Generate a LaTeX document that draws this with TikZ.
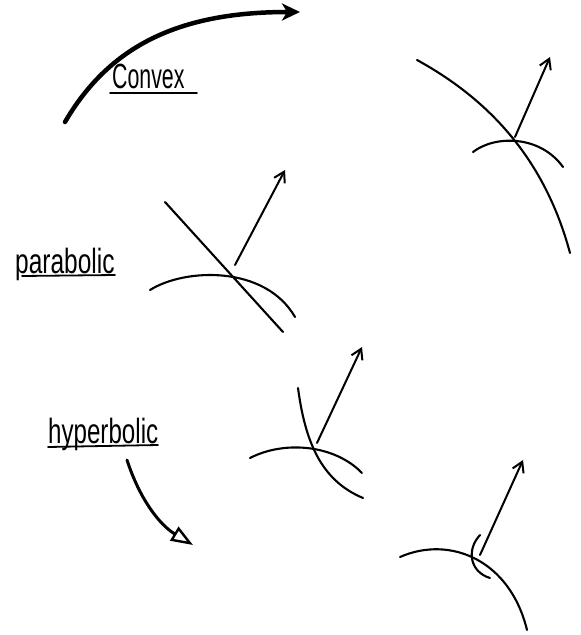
\documentclass[tikz,border=0pt]{standalone}
\usepackage{fontspec}
\setmainfont{Liberation Sans}
\usetikzlibrary{arrows.meta}
\begin{document}
\begin{tikzpicture}[x=1pt,y=-1pt,line cap=round,line join=round,
  curve/.style={line width=2.1pt},
  vec/.style={line width=2pt,-{Straight Barb[length=10pt,width=12pt,line width=2pt]}},
  bigarrow/.style={line width=4.5pt,-{Stealth[length=18pt,width=17pt,inset=5pt]}},
  hollowarrow/.style={line width=3pt,-{Triangle[open,length=22pt,width=16pt,line width=2.4pt]}},
  lbl/.style={font=\fontsize{35}{37}\selectfont,inner sep=0pt,anchor=base west},
  uline/.style={line width=1.8pt}]
\useasboundingbox (0,0) rectangle (581,635);

% --- Convex ---
\coordinate (cs) at (65,122);
\coordinate (ce) at (300,12);
\draw[bigarrow] (cs) .. controls (110,45) and (180,12) .. (ce);
\node[lbl,xscale=0.61] (conv) at (112,88) {Convex};
\coordinate (cu1) at (110,93);
\coordinate (cu2) at (197,93);
\draw[uline] (cu1) -- (cu2);

% top-right diagram
\draw[curve] (417,60) .. controls (490,100) and (545,160) .. (570,253);
\draw[curve] (473,152) .. controls (495,135) and (540,135) .. (563,167);
\coordinate (p1) at (515,137);
\coordinate (q1) at (550,57);
\draw[vec] (p1) -- (q1);

% --- parabolic ---
\node[lbl,xscale=0.70] (para) at (15,273) {parabolic};
\coordinate (pu1) at (22,276);
\coordinate (pu2) at (115,275);
\draw[uline] (pu1) -- (pu2);
\coordinate (l1) at (165,202);
\coordinate (l2) at (283,332);
\draw[curve] (l1) -- (l2);
\draw[curve] (150,290) .. controls (185,268) and (265,265) .. (295,317);
\coordinate (p2) at (235,265);
\coordinate (q2) at (285,170);
\draw[vec] (p2) -- (q2);

% --- hyperbolic ---
\node[lbl,xscale=0.69] (hyp) at (48,443) {hyperbolic};
\coordinate (hu1) at (48,447);
\coordinate (hu2) at (158,445);
\draw[uline] (hu1) -- (hu2);
\coordinate (hs) at (127,460);
\coordinate (he) at (193,545);
\draw[hollowarrow] (hs) .. controls (140,500) and (160,525) .. (he);

\draw[curve] (298,388) .. controls (305,440) and (320,480) .. (363,498);
\draw[curve] (250,458) .. controls (285,440) and (335,445) .. (362,473);
\coordinate (p3) at (317,443);
\coordinate (q3) at (362,347);
\draw[vec] (p3) -- (q3);

% bottom-right diagram
\draw[curve] (400,557) .. controls (450,535) and (510,560) .. (527,630);
\draw[curve] (480,535) .. controls (466,550) and (470,572) .. (490,578);
\coordinate (p4) at (480,555);
\coordinate (q4) at (523,460);
\draw[vec] (p4) -- (q4);
\end{tikzpicture}
\end{document}
